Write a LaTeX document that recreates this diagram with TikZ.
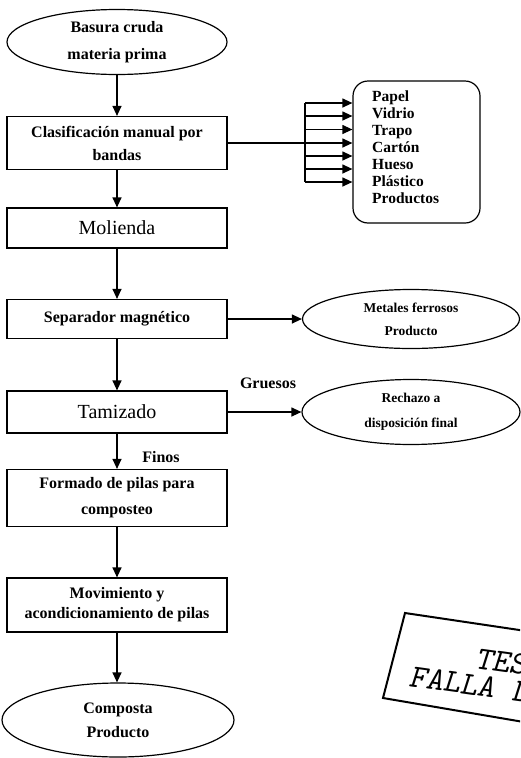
\documentclass[tikz,border=0pt]{standalone}
\usepackage{fontspec}
\setmainfont{Liberation Serif}
\usetikzlibrary{shapes.geometric,arrows.meta}

\begin{document}
\begin{tikzpicture}[x=1pt,y=-1pt,
  caja/.style={draw,line width=1.2pt,minimum width=220pt,inner sep=0pt,align=center,font=\fontsize{16}{19}\selectfont\bfseries},
  elipse/.style={draw,ellipse,line width=1.2pt,inner sep=0pt,align=center,font=\fontsize{16}{19}\selectfont\bfseries},
  flecha/.style={line width=1.2pt,-{Triangle[length=10pt,width=9pt]}},
  linea/.style={line width=1.2pt},
  etiqueta/.style={font=\fontsize{16}{19}\selectfont\bfseries}]
\useasboundingbox (0,0) rectangle (520,758);

% columna principal
\node (basura) at (117,42) [elipse,minimum width=220pt,minimum height=65pt] {\rule{0pt}{10pt}Basura cruda\\[8pt]materia prima};
\node (clasif) at (117,143) [caja,minimum height=53pt] {Clasificación manual por\\[4pt]bandas};
\node (molienda) at (117,228) [caja,minimum height=40pt,font=\fontsize{20}{24}\selectfont] {Molienda};
\node (separador) at (117,319) [caja,minimum height=39pt] {Separador magnético};
\node (tamizado) at (117,412) [caja,minimum height=42pt,font=\fontsize{20}{24}\selectfont] {Tamizado};
\node (formado) at (117,498) [caja,minimum height=57pt] {Formado de pilas para\\[7pt]composteo};
\node (movim) at (117,605) [caja,minimum height=54pt] {Movimiento y\\[1pt]acondicionamiento de pilas};
\node (composta) at (118,720) [elipse,minimum width=232pt,minimum height=74pt] {Composta\\[5pt]Producto};

\draw[flecha] (basura) -- (clasif);
\draw[flecha] (clasif) -- (molienda);
\draw[flecha] (molienda) -- (separador);
\draw[flecha] (separador) -- (tamizado);
\draw[flecha] (tamizado) -- (formado);
\draw[flecha] (formado) -- (movim);
\draw[flecha] (movim.south) -- (movim.south |- composta.north);

\node (finos) at (161,457) [etiqueta] {Finos};
\node (gruesos) at (268,383) [etiqueta] {Gruesos};

% productos de la clasificacion
\node (prod) at (416.5,152) [draw,line width=1.2pt,rounded corners=15pt,minimum width=127pt,minimum height=142pt] {};
\node (lista) at (372,147) [anchor=west,inner sep=0pt,align=left,font=\fontsize{15.5}{17}\selectfont\bfseries] {Papel\\Vidrio\\Trapo\\Cartón\\Hueso\\Plástico\\Productos};
\foreach \i/\y in {1/103,2/116,3/129.5,4/143,5/156,6/169,7/182} {
  \coordinate (b\i) at (305,\y);
  \draw[flecha] (b\i) -- (b\i -| prod.west);
}
\draw[linea] (b1) -- (b7);
\draw[linea] (clasif.east) -- (b4);

% salidas laterales
\node (metales) at (411,319) [elipse,minimum width=217pt,minimum height=59pt,font=\fontsize{13.5}{16}\selectfont\bfseries] {Metales ferrosos\\[7pt]Producto};
\node (rechazo) at (411,412) [elipse,minimum width=218pt,minimum height=65pt,font=\fontsize{13.5}{16}\selectfont\bfseries] {Rechazo a\\[9pt]disposición final};
\draw[flecha] (separador) -- (metales);
\draw[flecha] (tamizado) -- (rechazo);

% sello
\begin{scope}
\clip (0,0) rectangle (520,758);
\draw[line width=2pt] (405,613) -- (600,642) -- (600,735) -- (383,698) -- cycle;
\node (sello) at (408,686) [anchor=base west,inner sep=0pt,rotate=-8,align=left,font=\fontsize{33}{27}\selectfont\ttfamily\slshape] {\hspace*{1.9em}TES\\FALLA D};
\end{scope}
\end{tikzpicture}
\end{document}
